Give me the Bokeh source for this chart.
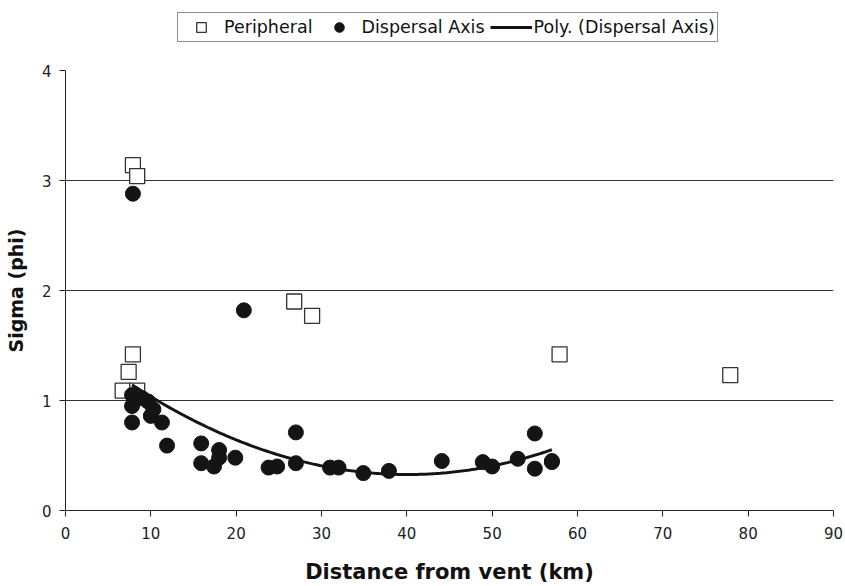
import numpy as np
from bokeh.plotting import figure
from bokeh.layouts import column
from bokeh.models import Legend, LegendItem, Range1d, FixedTicker
from bokeh.embed import file_html
from bokeh.resources import INLINE

# Peripheral samples
per_x = [7.9, 8.4, 7.9, 7.4, 6.7, 8.4, 26.8, 28.9, 57.9, 77.9]
per_y = [3.14, 3.04, 1.42, 1.26, 1.09, 1.09, 1.90, 1.77, 1.42, 1.23]

# Dispersal axis samples
dis_x = [7.9, 20.9, 7.8, 7.8, 9.0, 9.7, 10.3, 10.0, 11.3, 7.8, 11.9,
         15.9, 15.9, 18.0, 17.4, 18.0, 19.9, 23.8, 24.8, 27.0, 27.0,
         31.0, 32.0, 34.9, 37.9, 44.1, 48.9, 50.0, 53.0, 55.0, 55.0, 57.0, 57.0]
dis_y = [2.88, 1.82, 1.05, 0.95, 1.02, 0.99, 0.92, 0.86, 0.80, 0.80, 0.59,
         0.61, 0.43, 0.55, 0.40, 0.48, 0.48, 0.39, 0.40, 0.71, 0.43,
         0.39, 0.39, 0.34, 0.36, 0.45, 0.44, 0.40, 0.47, 0.70, 0.38, 0.44, 0.45]

x_ticks = [0, 10, 20, 30, 40, 50, 60, 70, 80, 90]
y_ticks = [0, 1, 2, 3, 4]
labels = ["Peripheral", "Dispersal Axis", "Poly. (Dispersal Axis)"]

FONT = "DejaVu Sans"
PER_STYLE = dict(marker="square", size=15, fill_color="white", line_color="#333333", line_width=1.3)
DIS_STYLE = dict(marker="circle", size=15, fill_color="#141414", line_color="#141414")
FIT_STYLE = dict(line_color="#141414", line_width=3)

# ---- main chart ----
p = figure(width=845, height=536, output_backend="svg", toolbar_location=None,
           x_range=Range1d(0, 90), y_range=Range1d(0, 4),
           min_border_left=65, min_border_right=12, min_border_top=20,
           min_border_bottom=75)
p.outline_line_color = None
p.background_fill_color = "white"
p.border_fill_color = "white"

p.xgrid.grid_line_color = None
p.ygrid.grid_line_color = "#333333"
p.ygrid.grid_line_width = 1
p.ygrid.ticker = FixedTicker(ticks=y_ticks)

p.xaxis.ticker = FixedTicker(ticks=x_ticks)
p.yaxis.ticker = FixedTicker(ticks=y_ticks)
for ax in (p.xaxis[0], p.yaxis[0]):
    ax.axis_line_color = "#222222"
    ax.major_tick_line_color = "#222222"
    ax.major_tick_in = 0
    ax.major_tick_out = 6
    ax.minor_tick_line_color = None
    ax.major_label_text_font = FONT
    ax.major_label_text_font_size = "15px"
    ax.major_label_text_color = "#222222"
    ax.axis_label_text_font = FONT
    ax.axis_label_text_font_style = "bold"
    ax.axis_label_text_color = "#111111"
p.xaxis.axis_label = "Distance from vent (km)"
p.yaxis.axis_label = "Sigma (phi)"
p.xaxis.axis_label_text_font_size = "21px"
p.yaxis.axis_label_text_font_size = "19px"
p.xaxis.major_label_standoff = 10
p.xaxis.axis_label_standoff = 18
p.yaxis.major_label_standoff = 8
p.yaxis.axis_label_standoff = 12

# Second-order polynomial trendline fitted to the dispersal axis data
coef = np.polyfit(dis_x, dis_y, 2)
fx = np.linspace(min(dis_x), max(dis_x), 200)
fy = np.polyval(coef, fx)

p.scatter(per_x, per_y, **PER_STYLE)
p.scatter(dis_x, dis_y, **DIS_STYLE)
p.line(fx, fy, **FIT_STYLE)

# ---- legend strip above the chart (hidden sample glyphs outside its range) ----
lg = figure(width=845, height=50, output_backend="svg", toolbar_location=None,
            x_range=Range1d(0, 1), y_range=Range1d(0, 1),
            x_axis_type=None, y_axis_type=None,
            min_border_left=0, min_border_right=0, min_border_top=0,
            min_border_bottom=0)
lg.outline_line_color = None
lg.xgrid.visible = False
lg.ygrid.visible = False
lr_per = lg.scatter([-10], [-10], **PER_STYLE)
lr_dis = lg.scatter([-10], [-10], **DIS_STYLE)
lr_fit = lg.line([-10, -9], [-10, -10], **FIT_STYLE)

legend = Legend(items=[
    LegendItem(label=labels[0], renderers=[lr_per]),
    LegendItem(label=labels[1], renderers=[lr_dis]),
    LegendItem(label=labels[2], renderers=[lr_fit]),
], orientation="horizontal", location=(112, 8))
legend.label_text_font = FONT
legend.label_text_font_size = "17.5px"
legend.label_text_color = "#111111"
legend.border_line_color = "#222222"
legend.border_line_width = 1
legend.background_fill_color = "white"
legend.glyph_width = 42
legend.glyph_height = 24
legend.spacing = 5
legend.padding = 2
legend.margin = 0
legend.label_standoff = 2
lg.add_layout(legend, "center")

layout = column(lg, p, spacing=0)
open("out.html", "w").write(file_html(layout, INLINE))
